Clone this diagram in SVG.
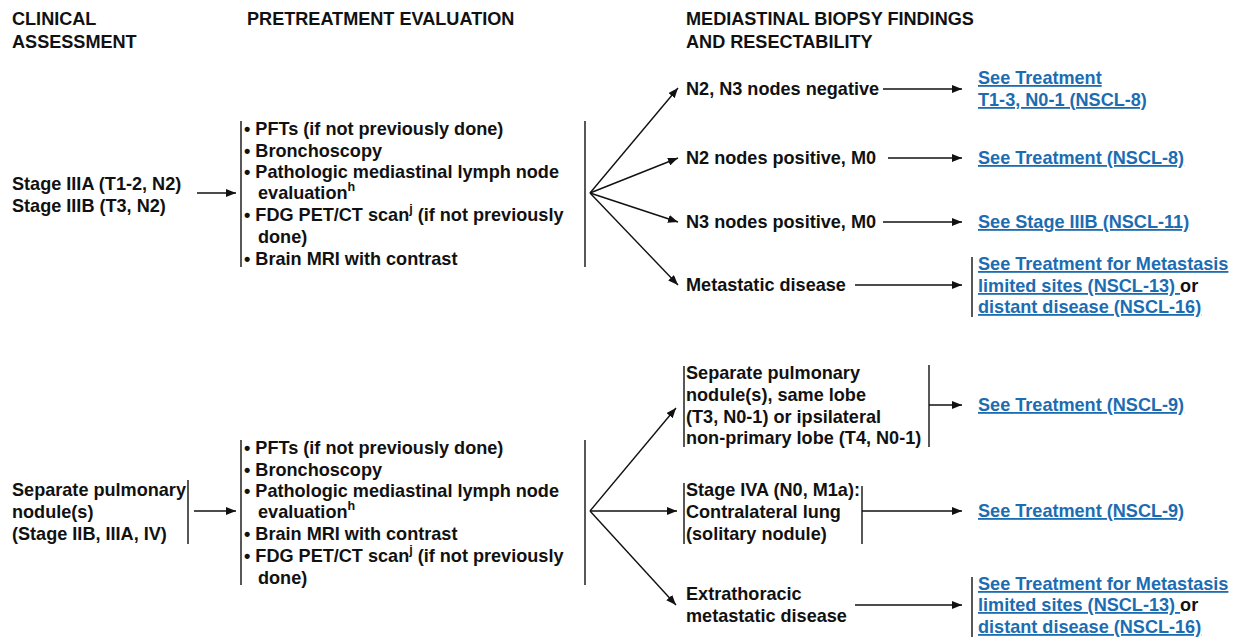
<svg xmlns="http://www.w3.org/2000/svg" width="1239" height="637" viewBox="0 0 1239 637">
<style>
text{font-family:"Liberation Sans",Arial,sans-serif;font-weight:bold;font-size:18.1px;fill:#111}
.lk{fill:#1c6cb2;text-decoration:underline}
.sup{font-size:12.5px}
.ln{stroke:#111;stroke-width:1.4;fill:none}
.ar{stroke:#111;stroke-width:1.4;fill:none;marker-end:url(#ah)}
</style>
<defs>
<marker id="ah" viewBox="0 0 10 8" refX="10" refY="4" markerWidth="10" markerHeight="8" markerUnits="userSpaceOnUse" orient="auto">
<path d="M0,0 L10,4 L0,8 z" fill="#111"/>
</marker>
</defs>
<rect width="1239" height="637" fill="#fff"/>
<g id="headers">
<text x="12" y="25">CLINICAL</text>
<text x="12" y="48">ASSESSMENT</text>
<text x="247" y="25">PRETREATMENT EVALUATION</text>
<text x="686" y="25">MEDIASTINAL BIOPSY FINDINGS</text>
<text x="686" y="48">AND RESECTABILITY</text>
</g>
<g id="stage3">
<text x="12" y="190">Stage IIIA (T1-2, N2)</text>
<text x="12" y="212">Stage IIIB (T3, N2)</text>
</g>
<g id="eval1">
<line class="ln" x1="241" y1="121" x2="241" y2="267"/>
<text x="244" y="135">• PFTs (if not previously done)</text>
<text x="244" y="157">• Bronchoscopy</text>
<text x="244" y="178">• Pathologic mediastinal lymph node</text>
<text x="258" y="199">evaluation<tspan class="sup" dy="-8">h</tspan></text>
<text x="244" y="221">• FDG PET/CT scan<tspan class="sup" dy="-8">j</tspan><tspan dy="8"> (if not previously</tspan></text>
<text x="258" y="243">done)</text>
<text x="244" y="265">• Brain MRI with contrast</text>
<line class="ln" x1="585" y1="121" x2="585" y2="267"/>
</g>
<g id="n23neg"><text x="686" y="95">N2, N3 nodes negative</text></g>
<g id="n2pos"><text x="686" y="164">N2 nodes positive, M0</text></g>
<g id="n3pos"><text x="686" y="228">N3 nodes positive, M0</text></g>
<g id="metdis"><text x="686" y="291">Metastatic disease</text></g>
<g id="link1">
<text class="lk" x="978" y="84">See Treatment</text>
<text class="lk" x="978" y="106">T1-3, N0-1 (NSCL-8)</text>
</g>
<g id="link2"><text class="lk" x="978" y="164">See Treatment (NSCL-8)</text></g>
<g id="link3"><text class="lk" x="978" y="228">See Stage IIIB (NSCL-11)</text></g>
<g id="link4">
<line class="ln" x1="972" y1="257" x2="972" y2="317"/>
<text class="lk" x="978" y="270">See Treatment for Metastasis </text>
<text x="978" y="292"><tspan class="lk">limited sites (NSCL-13) </tspan>or</text>
<text class="lk" x="978" y="313">distant disease (NSCL-16)</text>
</g>
<g id="spn">
<text x="12" y="496">Separate pulmonary</text>
<text x="12" y="518">nodule(s)</text>
<text x="12" y="540">(Stage IIB, IIIA, IV)</text>
<line class="ln" x1="188" y1="480" x2="188" y2="544"/>
</g>
<g id="eval2">
<line class="ln" x1="241" y1="440" x2="241" y2="585"/>
<text x="244" y="454">• PFTs (if not previously done)</text>
<text x="244" y="476">• Bronchoscopy</text>
<text x="244" y="497">• Pathologic mediastinal lymph node</text>
<text x="258" y="518">evaluation<tspan class="sup" dy="-8">h</tspan></text>
<text x="244" y="540">• Brain MRI with contrast</text>
<text x="244" y="562">• FDG PET/CT scan<tspan class="sup" dy="-8">j</tspan><tspan dy="8"> (if not previously</tspan></text>
<text x="258" y="584">done)</text>
<line class="ln" x1="585" y1="440" x2="585" y2="585"/>
</g>
<g id="sepsame">
<line class="ln" x1="684" y1="366" x2="684" y2="447"/>
<text x="686" y="379">Separate pulmonary</text>
<text x="686" y="401">nodule(s), same lobe</text>
<text x="686" y="423">(T3, N0-1) or ipsilateral</text>
<text x="686" y="444">non-primary lobe (T4, N0-1)</text>
<line class="ln" x1="929" y1="365" x2="929" y2="447"/>
</g>
<g id="stage4a">
<line class="ln" x1="684" y1="483" x2="684" y2="544"/>
<text x="686" y="496">Stage IVA (N0, M1a):</text>
<text x="686" y="518">Contralateral lung</text>
<text x="686" y="540">(solitary nodule)</text>
<line class="ln" x1="862" y1="486" x2="862" y2="544"/>
</g>
<g id="extra">
<text x="686" y="600">Extrathoracic</text>
<text x="686" y="622">metastatic disease</text>
</g>
<g id="link5"><text class="lk" x="978" y="411">See Treatment (NSCL-9)</text></g>
<g id="link6"><text class="lk" x="978" y="517">See Treatment (NSCL-9)</text></g>
<g id="link7">
<line class="ln" x1="972" y1="577" x2="972" y2="637"/>
<text class="lk" x="978" y="590">See Treatment for Metastasis </text>
<text x="978" y="611"><tspan class="lk">limited sites (NSCL-13) </tspan>or</text>
<text class="lk" x="978" y="633">distant disease (NSCL-16)</text>
</g>
<g id="connectors">
<line class="ar" x1="197" y1="193" x2="236" y2="193"/>
<line class="ar" x1="590" y1="193" x2="678" y2="88"/>
<line class="ar" x1="590" y1="193" x2="678" y2="158"/>
<line class="ar" x1="590" y1="193" x2="678" y2="222"/>
<line class="ar" x1="590" y1="193" x2="678" y2="285"/>
<line class="ar" x1="883" y1="89" x2="962" y2="89"/>
<line class="ar" x1="888" y1="158" x2="962" y2="158"/>
<line class="ar" x1="883" y1="222" x2="962" y2="222"/>
<line class="ar" x1="855" y1="285" x2="962" y2="285"/>
<line class="ar" x1="194" y1="511" x2="236" y2="511"/>
<line class="ar" x1="590" y1="511" x2="676" y2="408"/>
<line class="ar" x1="590" y1="511" x2="677" y2="511"/>
<line class="ar" x1="590" y1="511" x2="676" y2="605"/>
<line class="ar" x1="929" y1="405" x2="962" y2="405"/>
<line class="ar" x1="862" y1="511" x2="962" y2="511"/>
<line class="ar" x1="855" y1="605" x2="962" y2="605"/>
</g>
</svg>
